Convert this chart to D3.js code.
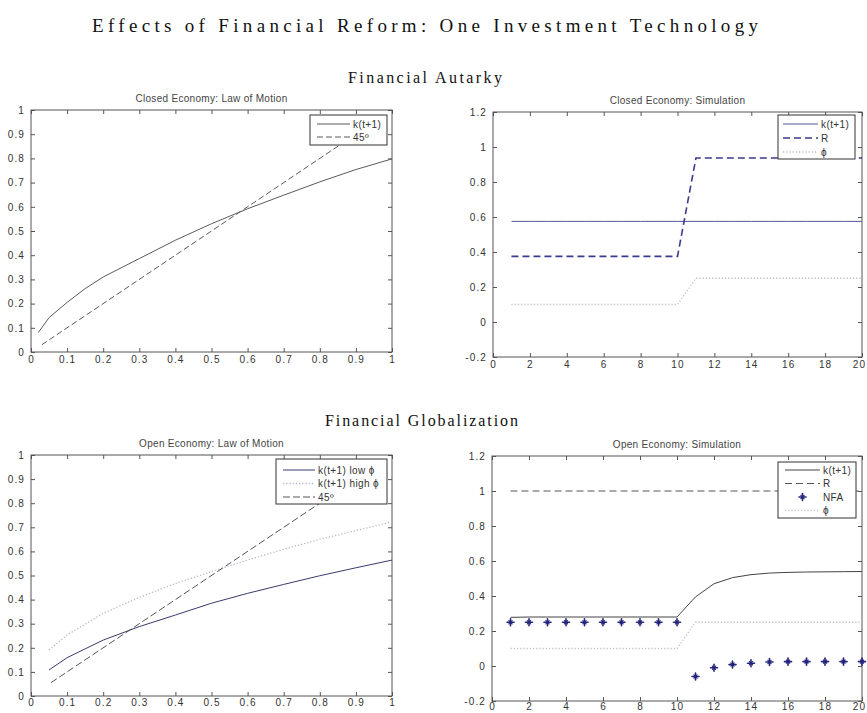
<!DOCTYPE html>
<html>
<head>
<meta charset="utf-8">
<script src="https://cdn.jsdelivr.net/npm/d3@7"></script>
<style>
  body { margin: 0; background: #fff; }
  svg { display: block; }
  .tick-label { font-family: "Liberation Sans", Arial, sans-serif; font-size: 10px; letter-spacing: 1.1px; fill: #333; }
  .sub-title { font-family: "Liberation Sans", Arial, sans-serif; font-size: 10px; letter-spacing: 0.3px; fill: #444; }
  .legend-text { font-family: "Liberation Sans", Arial, sans-serif; font-size: 10px; letter-spacing: 0.4px; fill: #333; }
  .serif { font-family: "Liberation Serif", "Times New Roman", serif; fill: #111; }
</style>
</head>
<body>
<svg id="chart" width="867" height="713"></svg>
<script>
// ---- data ----
const lawX = [0.02, 0.05, 0.1, 0.15, 0.2, 0.3, 0.4, 0.5, 0.6, 0.7, 0.8, 0.9, 1.0];
const closedK = [0.08, 0.142, 0.205, 0.262, 0.31, 0.386, 0.462, 0.53, 0.592, 0.648, 0.703, 0.754, 0.798];
const closedDiag = [0.03, 0.96];

const openX = [0.05, 0.1, 0.2, 0.3, 0.4, 0.5, 0.6, 0.7, 0.8, 0.9, 1.0];
const openLow = [0.108, 0.159, 0.232, 0.288, 0.336, 0.385, 0.426, 0.463, 0.499, 0.532, 0.564];
const openHigh = [0.191, 0.253, 0.343, 0.409, 0.467, 0.516, 0.564, 0.609, 0.650, 0.686, 0.723];
const openDiag = [0.055, 0.96];

const periods = [1, 2, 3, 4, 5, 6, 7, 8, 9, 10, 11, 12, 13, 14, 15, 16, 17, 18, 19, 20];
const closedSimK = [0.575, 0.575, 0.575, 0.575, 0.575, 0.575, 0.575, 0.575, 0.575, 0.575,
                    0.575, 0.575, 0.575, 0.575, 0.575, 0.575, 0.575, 0.575, 0.575, 0.575];
const closedSimR = [0.375, 0.375, 0.375, 0.375, 0.375, 0.375, 0.375, 0.375, 0.375, 0.375,
                    0.937, 0.937, 0.937, 0.937, 0.937, 0.937, 0.937, 0.937, 0.937, 0.937];
const phiPath = [0.1, 0.1, 0.1, 0.1, 0.1, 0.1, 0.1, 0.1, 0.1, 0.1,
                 0.25, 0.25, 0.25, 0.25, 0.25, 0.25, 0.25, 0.25, 0.25, 0.25];
const openSimK = [0.278, 0.28, 0.28, 0.28, 0.28, 0.28, 0.28, 0.28, 0.28, 0.28,
                  0.395, 0.47, 0.505, 0.522, 0.531, 0.535, 0.537, 0.538, 0.539, 0.54];
const openSimR = [1, 1, 1, 1, 1, 1, 1, 1, 1, 1, 1, 1, 1, 1, 1, 1, 1, 1, 1, 1];
const openNFA = [0.25, 0.25, 0.25, 0.25, 0.25, 0.25, 0.25, 0.25, 0.25, 0.25,
                 -0.06, -0.01, 0.008, 0.016, 0.023, 0.025, 0.025, 0.025, 0.025, 0.025];

const lawTicks = [0, 0.1, 0.2, 0.3, 0.4, 0.5, 0.6, 0.7, 0.8, 0.9, 1];
const simXTicks = [0, 2, 4, 6, 8, 10, 12, 14, 16, 18, 20];
const simYTicks = [-0.2, 0, 0.2, 0.4, 0.6, 0.8, 1, 1.2];

const mainTitle = "Effects of Financial Reform: One Investment Technology";
const rowTitles = ["Financial Autarky", "Financial Globalization"];

// ---- page ----
const svg = d3.select("#chart");

svg.append("text").attr("class", "serif")
    .attr("x", 92).attr("y", 32)
    .attr("font-size", 19)
    .attr("textLength", 666).attr("lengthAdjust", "spacing")
    .text(mainTitle);

svg.append("text").attr("class", "serif")
    .attr("x", 348).attr("y", 83)
    .attr("font-size", 16)
    .attr("textLength", 154).attr("lengthAdjust", "spacing")
    .text(rowTitles[0]);

svg.append("text").attr("class", "serif")
    .attr("x", 325).attr("y", 426)
    .attr("font-size", 16)
    .attr("textLength", 193).attr("lengthAdjust", "spacing")
    .text(rowTitles[1]);

const fmt = d => String(+d.toFixed(1));

// a MATLAB '*' marker: plus with a small diagonal cross
function star(g, cx, cy, color) {
    const s = g.append("g").attr("transform", `translate(${cx},${cy})`)
        .attr("stroke", color).attr("stroke-linecap", "round");
    s.append("line").attr("x1", -3.5).attr("x2", 3.5).attr("y1", 0).attr("y2", 0).attr("stroke-width", 1.6);
    s.append("line").attr("x1", 0).attr("x2", 0).attr("y1", -3.5).attr("y2", 3.5).attr("stroke-width", 1.6);
    s.append("line").attr("x1", -1.6).attr("x2", 1.6).attr("y1", -1.6).attr("y2", 1.6).attr("stroke-width", 1.2);
    s.append("line").attr("x1", -1.6).attr("x2", 1.6).attr("y1", 1.6).attr("y2", -1.6).attr("stroke-width", 1.2);
}

function drawPanel(p) {
    const g = svg.append("g");
    const x = d3.scaleLinear().domain(p.xDomain).range([p.left, p.right]);
    const y = d3.scaleLinear().domain(p.yDomain).range([p.bottom, p.top]);

    // axes, MATLAB style: ticks inside on every side
    const xAxis = g.append("g").attr("transform", `translate(0,${p.bottom})`)
        .call(d3.axisBottom(x).tickValues(p.xTicks).tickSizeInner(-4).tickSizeOuter(0).tickPadding(p.xPad).tickFormat(fmt));
    // the last label sits on the window edge; nudge it inside
    xAxis.selectAll(".tick text").filter(d => x(d) > 855).attr("dx", -3);
    g.append("g").attr("transform", `translate(0,${p.top})`)
        .call(d3.axisTop(x).tickValues(p.xTicks).tickSizeInner(-4).tickSizeOuter(0).tickFormat(""));
    g.append("g").attr("transform", `translate(${p.left},0)`)
        .call(d3.axisLeft(y).tickValues(p.yTicks).tickSizeInner(-4).tickSizeOuter(0).tickPadding(6).tickFormat(fmt));
    g.append("g").attr("transform", `translate(${p.right},0)`)
        .call(d3.axisRight(y).tickValues(p.yTicks).tickSizeInner(-4).tickSizeOuter(0).tickFormat(""));
    g.selectAll(".domain").remove();
    g.selectAll(".tick line").attr("stroke", "#555");
    g.selectAll(".tick text").attr("class", "tick-label").attr("fill", null);

    g.append("rect")
        .attr("x", p.left).attr("y", p.top)
        .attr("width", p.right - p.left).attr("height", p.bottom - p.top)
        .attr("fill", "none").attr("stroke", "#555").attr("stroke-width", 1);

    g.append("text").attr("class", "sub-title")
        .attr("x", (p.left + p.right) / 2).attr("y", p.top - 8)
        .attr("text-anchor", "middle")
        .text(p.title);

    const line = d3.line().x(d => x(d[0])).y(d => y(d[1]));

    p.series.forEach(s => {
        const pts = s.xs.map((v, i) => [v, s.ys[i]]);
        if (s.marker) {
            pts.forEach(d => star(g, x(d[0]), y(d[1]), s.color));
        } else {
            g.append("path").datum(pts)
                .attr("d", line)
                .attr("fill", "none")
                .attr("stroke", s.color)
                .attr("stroke-width", s.width || 1)
                .attr("stroke-dasharray", s.dash || null);
        }
    });

    // legend box
    const L = p.legend;
    g.append("rect")
        .attr("x", L.x).attr("y", L.y).attr("width", L.w).attr("height", L.h)
        .attr("fill", "#fff").attr("stroke", "#333").attr("stroke-width", 1);
    p.series.forEach((s, i) => {
        const yy = L.y + L.first + i * L.step;
        if (s.marker) {
            star(g, (L.x0 + L.x1) / 2, yy, s.color);
        } else {
            g.append("line")
                .attr("x1", L.x0).attr("x2", L.x1).attr("y1", yy).attr("y2", yy)
                .attr("stroke", s.color).attr("stroke-width", s.width || 1)
                .attr("stroke-dasharray", s.dash || null);
        }
        g.append("text").attr("class", "legend-text")
            .attr("x", L.x1 + 3).attr("y", yy + 3.5)
            .text(s.label);
    });
}

drawPanel({
    title: "Closed Economy: Law of Motion",
    left: 31, right: 392, top: 110, bottom: 352, xPad: 4,
    xDomain: [0, 1], yDomain: [0, 1], xTicks: lawTicks, yTicks: lawTicks,
    series: [
        { label: "k(t+1)", xs: lawX, ys: closedK, color: "#5a5a5a" },
        { label: "45º", xs: closedDiag, ys: closedDiag, color: "#5a5a5a", dash: "6,3" }
    ],
    legend: { x: 310, y: 115, w: 77, h: 30, first: 9, step: 13, x0: 317, x1: 350 }
});

drawPanel({
    title: "Closed Economy: Simulation",
    left: 493, right: 862, top: 112, bottom: 357, xPad: 4,
    xDomain: [0, 20], yDomain: [-0.2, 1.2], xTicks: simXTicks, yTicks: simYTicks,
    series: [
        { label: "k(t+1)", xs: periods, ys: closedSimK, color: "#55559a" },
        { label: "R", xs: periods, ys: closedSimR, color: "#3a3a8e", dash: "7,4", width: 1.6 },
        { label: "ϕ", xs: periods, ys: phiPath, color: "#bdbdc8", dash: "1.2,2", width: 1.3 }
    ],
    legend: { x: 778, y: 115, w: 77, h: 44, first: 9, step: 14, x0: 783, x1: 818 }
});

drawPanel({
    title: "Open Economy: Law of Motion",
    left: 31, right: 392, top: 455, bottom: 696, xPad: 3,
    xDomain: [0, 1], yDomain: [0, 1], xTicks: lawTicks, yTicks: lawTicks,
    series: [
        { label: "k(t+1) low ϕ", xs: openX, ys: openLow, color: "#3a3a6e" },
        { label: "k(t+1) high ϕ", xs: openX, ys: openHigh, color: "#b5b5c8", dash: "1.2,2", width: 1.3 },
        { label: "45º", xs: openDiag, ys: openDiag, color: "#555", dash: "7,3" }
    ],
    legend: { x: 276, y: 459, w: 111, h: 45, first: 11, step: 13.5, x0: 283, x1: 315 }
});

drawPanel({
    title: "Open Economy: Simulation",
    left: 492, right: 862, top: 456, bottom: 701, xPad: 2,
    xDomain: [0, 20], yDomain: [-0.2, 1.2], xTicks: simXTicks, yTicks: simYTicks,
    series: [
        { label: "k(t+1)", xs: periods, ys: openSimK, color: "#444" },
        { label: "R", xs: periods, ys: openSimR, color: "#555", dash: "7,4" },
        { label: "NFA", xs: periods, ys: openNFA, color: "#24247c", marker: true },
        { label: "ϕ", xs: periods, ys: phiPath, color: "#bcbcca", dash: "1.2,2", width: 1.3 }
    ],
    legend: { x: 778, y: 462, w: 78, h: 56, first: 8, step: 13.5, x0: 785, x1: 820 }
});
</script>
</body>
</html>
